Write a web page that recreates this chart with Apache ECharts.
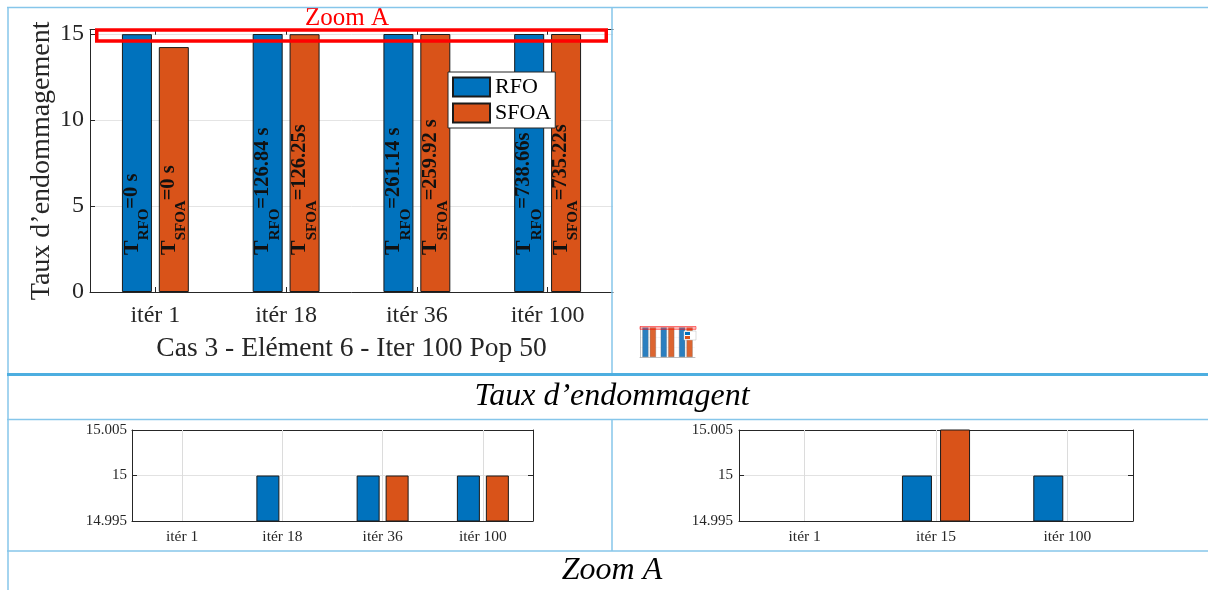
<!DOCTYPE html>
<html><head><meta charset="utf-8">
<script src="https://cdn.jsdelivr.net/npm/echarts@6/dist/echarts.min.js"></script>
<style>html,body{margin:0;padding:0;background:#fff}#c{width:1208px;height:590px}</style>
</head><body><div id="c"></div>
<script>
// ---------- data ----------
const mainCategories = ['itér 1', 'itér 18', 'itér 36', 'itér 100'];
const mainRFO = [14.99, 15, 15, 15];
const mainSFOA = [14.24, 14.99, 15, 15];
const mainRFOTimes = ['0 s', '126.84 s', '261.14 s', '738.66s'];
const mainSFOATimes = ['0 s', '126.25s', '259.92 s', '735.22s'];
const case2Categories = ['itér 1', 'itér 15', 'itér 100'];
const case2RFO = [14.99, 15, 15];
const case2SFOA = [14.99, 15.01, 14.99];
const mainYMin = 0, mainYMax = 15.25, mainYStep = 5;
const zoomYMin = 14.995, zoomYMax = 15.005, zoomYStep = 0.005;
const zoomWindow = [14.6, 15.23];
const mainXName = 'Cas 3 - Elément 6 - Iter 100 Pop 50';
const mainYName = 'Taux d’endommagement';
const rowTitle1 = 'Taux d’endommagent';
const rowTitle2 = 'Zoom A';

// ---------- style ----------
const SERIF = '"Liberation Serif", "Times New Roman", serif';
const AX = '#262626';
const BLUE = '#0072BD', ORANGE = '#D95319';
const EDGE = '#1a1a1a';
const THIN = '#86C6EA', THICK = '#4DAEE0';

const chart = echarts.init(document.getElementById('c'));

function catAxis(grid, data, opts) {
  return Object.assign({
    type: 'category', gridIndex: grid, data: data,
    axisLine: {show: true, lineStyle: {color: AX, width: 1}},
    axisTick: {show: true, inside: true, alignWithLabel: true, length: 5, lineStyle: {color: AX}},
    axisLabel: {show: true, fontFamily: SERIF, color: AX},
    splitLine: {show: false}
  }, opts);
}
function valAxis(grid, min, max, step, opts) {
  return Object.assign({
    type: 'value', gridIndex: grid, min: min, max: max, interval: step,
    axisLine: {show: true, lineStyle: {color: AX, width: 1}},
    axisTick: {show: true, inside: true, length: 5, lineStyle: {color: AX}},
    splitLine: {show: false}
  }, opts);
}
function mainLabel(sub, times) {
  return {
    show: true, position: 'insideBottom', distance: 37, rotate: 90,
    align: 'left', verticalAlign: 'middle',
    formatter: p => '{t|T}{s|' + sub + '}{v|=' + times[p.dataIndex] + '}',
    rich: {
      t: {fontFamily: SERIF, fontSize: 22, fontWeight: 'bold', color: '#111', padding: [0, 0, 10, 0]},
      s: {fontFamily: SERIF, fontSize: 15, fontWeight: 'bold', color: '#111', padding: [15, 0, 0, 0]},
      v: {fontFamily: SERIF, fontSize: 20.5, fontWeight: 'bold', color: '#111', padding: [0, 0, 10, 0]}
    }
  };
}
// vertical grid lines at category centres, carried by an empty helper series
function vGridSeries(cats, xi, yi) {
  return {
    type: 'line', data: [], xAxisIndex: xi, yAxisIndex: yi, z: 1, silent: true,
    markLine: {
      silent: true, symbol: 'none', label: {show: false}, animation: false,
      lineStyle: {color: '#dcdcdc', width: 1, type: 'solid'},
      emphasis: {disabled: true},
      data: cats.map(c => ({xAxis: c}))
    }
  };
}
function bars(name, data, color, xi, yi, w, gap, extra) {
  return Object.assign({
    type: 'bar', name: name, data: data, xAxisIndex: xi, yAxisIndex: yi,
    barWidth: w, barGap: gap, clip: true, z: 3,
    itemStyle: {color: color, borderColor: EDGE, borderWidth: 1},
    emphasis: {disabled: true}
  }, extra || {});
}

const mainLabelFmt = v => (Math.abs(v % mainYStep) < 1e-9 ? String(v) : '');
const zoomLabelFmt = v => String(+(+v).toFixed(3));

const option = {
  animation: false,
  backgroundColor: '#fff',
  textStyle: {fontFamily: SERIF},
  grid: [
    {left: 90, top: 29.7, width: 523, height: 262.3},
    {left: 132, top: 430, width: 401, height: 91},
    {left: 739, top: 430, width: 394, height: 91},
    {left: 640, top: 327, width: 55, height: 30}
  ],
  legend: [{
    data: ['RFO', 'SFOA'], orient: 'vertical', left: 448, top: 72,
    padding: [4, 4, 4, 4], itemGap: 4, itemWidth: 37, itemHeight: 19, icon: 'rect',
    borderColor: AX, borderWidth: 1, backgroundColor: '#fff', selectedMode: false,
    textStyle: {fontFamily: SERIF, fontSize: 22, color: '#000'}
  }, {
    data: ['RFO', 'SFOA'], orient: 'vertical', left: 684, top: 331,
    padding: [1, 6, 1, 1], itemGap: 1, itemWidth: 5, itemHeight: 3, icon: 'rect',
    itemStyle: {borderWidth: 0},
    borderColor: '#bbb', borderWidth: 0.5, backgroundColor: '#fff', selectedMode: false,
    formatter: () => '', textStyle: {fontSize: 3}
  }],
  xAxis: [
    catAxis(0, mainCategories, {
      axisLabel: {fontFamily: SERIF, fontSize: 24, color: AX, margin: 12},
      name: mainXName, nameLocation: 'middle', nameGap: 43,
      nameTextStyle: {fontFamily: SERIF, fontSize: 27.5, color: AX}
    }),
    catAxis(0, mainCategories, {position: 'top', axisLabel: {show: false}}),
    catAxis(1, mainCategories, {axisLabel: {fontFamily: SERIF, fontSize: 15.5, color: AX, margin: 8}}),
    catAxis(1, mainCategories, {position: 'top', axisLabel: {show: false}}),
    catAxis(2, case2Categories, {axisLabel: {fontFamily: SERIF, fontSize: 15.5, color: AX, margin: 8}}),
    catAxis(2, case2Categories, {position: 'top', axisLabel: {show: false}}),
    catAxis(3, case2Categories, {axisLabel: {show: false}, axisTick: {show: false},
      axisLine: {show: true, lineStyle: {color: '#888', width: 0.5}}})
  ],
  yAxis: [
    valAxis(0, mainYMin, mainYMax, mainYStep, {
      axisLabel: {fontFamily: SERIF, fontSize: 24, color: AX, margin: 6, formatter: mainLabelFmt},
      splitLine: {show: true, lineStyle: {color: '#e4e4e4', width: 1}},
      name: mainYName, nameLocation: 'middle', nameGap: 34,
      nameTextStyle: {fontFamily: SERIF, fontSize: 28, color: AX}
    }),
    valAxis(1, zoomYMin, zoomYMax, zoomYStep, {
      axisLabel: {fontFamily: SERIF, fontSize: 15, color: AX, margin: 5, formatter: zoomLabelFmt},
      splitLine: {show: true, lineStyle: {color: '#e2e2e2', width: 1}}
    }),
    valAxis(1, zoomYMin, zoomYMax, zoomYStep, {position: 'right', axisLabel: {show: false}}),
    valAxis(2, zoomYMin, zoomYMax, zoomYStep, {
      axisLabel: {fontFamily: SERIF, fontSize: 15, color: AX, margin: 6, formatter: zoomLabelFmt},
      splitLine: {show: true, lineStyle: {color: '#e2e2e2', width: 1}}
    }),
    valAxis(2, zoomYMin, zoomYMax, zoomYStep, {position: 'right', axisLabel: {show: false}}),
    valAxis(3, mainYMin, mainYMax, mainYStep, {
      axisLabel: {show: false}, axisTick: {show: false},
      axisLine: {show: true, lineStyle: {color: '#888', width: 0.5}},
      splitLine: {show: true, lineStyle: {color: '#eeeeee', width: 0.5}}
    })
  ],
  series: [
    bars('RFO', mainRFO, BLUE, 0, 0, 30, '23%', {label: mainLabel('RFO', mainRFOTimes)}),
    bars('SFOA', mainSFOA, ORANGE, 0, 0, 30, '23%', {label: mainLabel('SFOA', mainSFOATimes)}),
    vGridSeries(mainCategories, 2, 1),
    bars('RFO', mainRFO, BLUE, 2, 1, 23, '26%'),
    bars('SFOA', mainSFOA, ORANGE, 2, 1, 23, '26%'),
    vGridSeries(case2Categories, 4, 3),
    bars('RFO', case2RFO, BLUE, 4, 3, 30, '27%'),
    bars('SFOA', case2SFOA, ORANGE, 4, 3, 30, '27%'),
    bars('RFO', case2RFO, '#2a7fc0', 6, 5, 6, '25%', {itemStyle: {color: '#2a7fc0', borderColor: '#666', borderWidth: 0.3}}),
    bars('SFOA', case2SFOA, '#dc6530', 6, 5, 6, '25%', {itemStyle: {color: '#dc6530', borderColor: '#666', borderWidth: 0.3}})
  ]
};
chart.setOption(option);

// ---------- annotations & table frame ----------
const yTop = chart.convertToPixel({xAxisIndex: 0, yAxisIndex: 0}, [mainCategories[0], zoomWindow[1]])[1];
const yBot = chart.convertToPixel({xAxisIndex: 0, yAxisIndex: 0}, [mainCategories[0], zoomWindow[0]])[1];
const tTop = chart.convertToPixel({xAxisIndex: 6, yAxisIndex: 5}, [case2Categories[0], mainYMax])[1];
const tBot = chart.convertToPixel({xAxisIndex: 6, yAxisIndex: 5}, [case2Categories[0], 14.3])[1];

function line(x1, y1, x2, y2, color, w) {
  return {type: 'line', z: 100, silent: true, shape: {x1, y1, x2, y2}, style: {stroke: color, lineWidth: w}};
}
chart.setOption({
  graphic: [
    {type: 'rect', z: 50, silent: true, shape: {x: 96.75, y: yTop, width: 509.5, height: yBot - yTop},
      style: {fill: 'none', stroke: '#FF0000', lineWidth: 3.5}},
    {type: 'text', z: 50, silent: true, x: 347, y: 18,
      style: {text: rowTitle2, fontFamily: SERIF, fontSize: 25, fill: '#FF0000', align: 'center', verticalAlign: 'middle'}},
    {type: 'rect', z: 50, silent: true, shape: {x: 640, y: tTop - 0.5, width: 56, height: tBot - tTop + 1},
      style: {fill: 'rgba(255,60,60,0.35)', stroke: 'rgba(255,0,0,0.5)', lineWidth: 1}},
    {type: 'text', z: 100, silent: true, x: 612, y: 397,
      style: {text: rowTitle1, fontFamily: SERIF, fontStyle: 'italic', fontSize: 32, fill: '#000', align: 'center', verticalAlign: 'middle'}},
    {type: 'text', z: 100, silent: true, x: 612, y: 571,
      style: {text: rowTitle2, fontFamily: SERIF, fontStyle: 'italic', fontSize: 32, fill: '#000', align: 'center', verticalAlign: 'middle'}},
    line(7, 7.5, 1208, 7.5, THIN, 1.5),
    line(8, 7, 8, 590, THIN, 1.5),
    line(612, 7, 612, 374, THIN, 1.5),
    line(7, 374.5, 1208, 374.5, THICK, 3),
    line(7, 419.5, 1208, 419.5, THIN, 1.5),
    line(612, 419, 612, 551, THIN, 1.5),
    line(7, 551, 1208, 551, THIN, 1.5)
  ]
});
</script></body></html>
